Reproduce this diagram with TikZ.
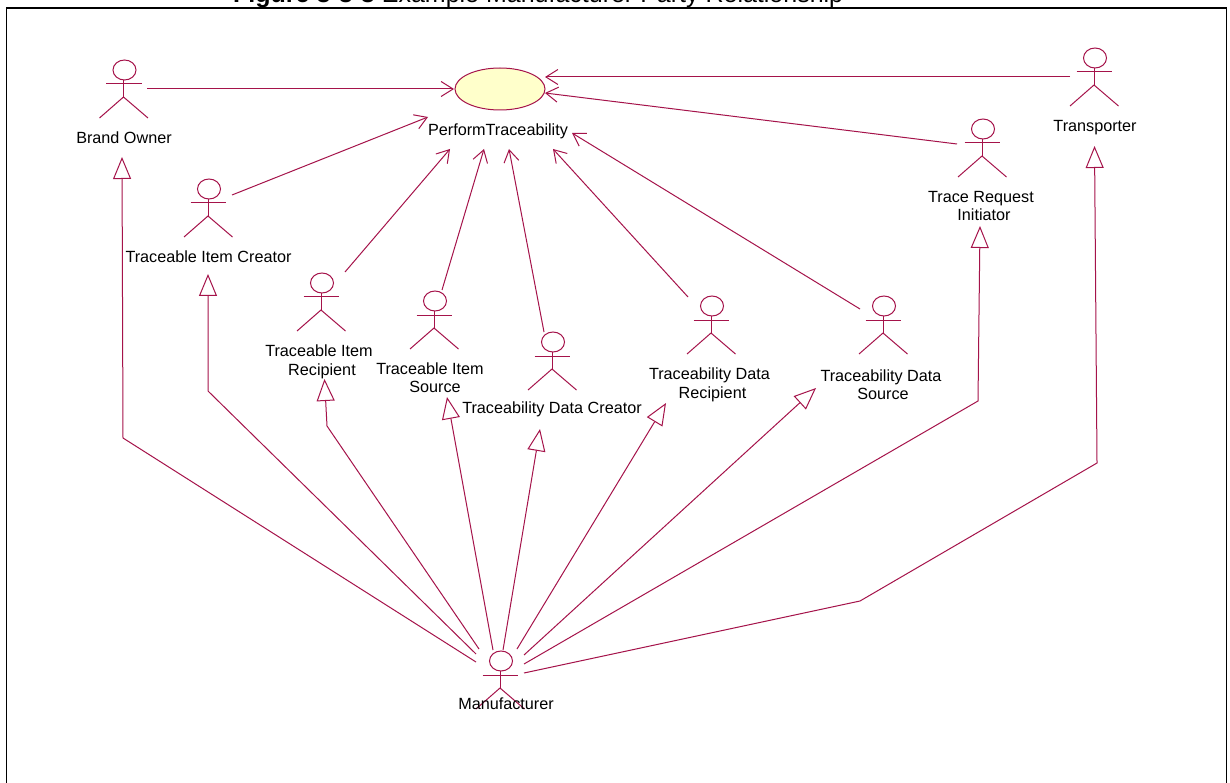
\documentclass[tikz,border=0pt]{standalone}
\usepackage{fontspec}
\setmainfont{Liberation Sans}
\usetikzlibrary{arrows.meta,shapes.geometric,calc}
\definecolor{umlline}{HTML}{A5134A}
\definecolor{umlfill}{HTML}{FFFFCB}
\tikzset{
  actorhead/.style={draw=umlline,line width=1pt,ellipse,inner sep=0pt,minimum width=23pt,minimum height=20pt},
  actorbody/.style={draw=umlline,line width=1pt},
  label/.style={font=\fontsize{16.2pt}{18.4pt}\selectfont,text=black,align=center,inner sep=0pt},
  usecase/.style={draw=umlline,fill=umlfill,line width=1pt,ellipse,inner sep=0pt,minimum width=90pt,minimum height=42pt},
  assoc/.style={draw=umlline,line width=1pt,-{Straight Barb[length=12pt,width=15pt,line width=1pt]}},
  general/.style={draw=umlline,line width=1pt,-{Triangle[open,length=22pt,width=18pt,fill=white,line width=1pt]}},
  frameline/.style={draw=black,line width=1.6pt},
  caption/.style={font=\fontsize{25pt}{28pt}\selectfont,text=black,inner sep=0pt,anchor=base west}
}
\newcommand{\umlactor}[3]{%
  \node[actorhead] (#1) at (#2,#3) {};
  \draw[actorbody] ($(#2,#3)+(-1,10)$) -- ($(#2,#3)+(-1,27)$) coordinate (#1crotch);
  \draw[actorbody] ($(#2,#3)+(-18.5,14)$) -- ($(#2,#3)+(17,14)$);
  \draw[actorbody] ($(#2,#3)+(-25,48)$) -- (#1crotch) -- ($(#2,#3)+(23.5,48)$);
}
\begin{document}
\begin{tikzpicture}[x=1pt,y=-1pt]
\useasboundingbox (0,0) rectangle (1230,783);
\path[fill=white] (0,0) rectangle (1230,783);
\node[caption] (title) at (233,2.5) {\textbf{Figure 3-3-3} Example Manufacturer Party Relationship};
\draw[frameline] (6.5,800) -- (6.5,8) -- (1226.5,8) -- (1226.5,800);

\node[usecase] (uc) at (500,89) {};
\node[label] (uclabel) at (498,131) {PerformTraceability};

\umlactor{bo}{124.5}{70}
\umlactor{tr}{1095}{58}
\umlactor{tri}{983}{129}
\umlactor{tic}{209}{189}
\umlactor{tir}{322}{283}
\umlactor{tis}{435}{301}
\umlactor{tdc}{553}{342}
\umlactor{tdr}{712}{306}
\umlactor{tds}{884}{306}
\umlactor{mf}{501}{661}

\node[label] (bol) at (124,138) {Brand Owner};
\node[label] (trl) at (1095,128) {Transporter};
\node[label] (tril) at (981,206) {Trace Request\\\hspace{6pt}Initiator};
\node[label] (ticl) at (208.5,257) {Traceable Item Creator};
\node[label] (tirl) at (319,362) {Traceable Item\\\hspace{6pt}Recipient};
\node[label] (tisl) at (430,378) {Traceable Item\\\hspace{10pt}Source};
\node[label] (tdcl) at (552,409) {Traceability Data Creator};
\node[label] (tdrl) at (709.5,385) {Traceability Data\\\hspace{6pt}Recipient};
\node[label] (tdsl) at (881,385) {Traceability Data\\\hspace{4pt}Source};
\node[label] (mfl) at (506,704) {Manufacturer};

% association end points
\coordinate (boS) at (147,89);     \coordinate (ucW) at (454,89);
\coordinate (trS) at (1070,77);    \coordinate (ucE1) at (545,77);
\coordinate (triS) at (957,144);   \coordinate (ucE2) at (545,93);
\coordinate (ticS) at (232,195);   \coordinate (ucA) at (428,117);
\coordinate (tirS) at (345,272);   \coordinate (ucB) at (450,149);
\coordinate (tisS) at (442,290);   \coordinate (ucC) at (484,149);
\coordinate (tdcS) at (544,332);   \coordinate (ucD) at (509,149);
\coordinate (tdrS) at (688,297);   \coordinate (ucF) at (553,149);
\coordinate (tdsS) at (860,309);   \coordinate (ucG) at (572,133);

\draw[assoc] (boS) -- (ucW);
\draw[assoc] (trS) -- (ucE1);
\draw[assoc] (triS) -- (ucE2);
\draw[assoc] (ticS) -- (ucA);
\draw[assoc] (tirS) -- (ucB);
\draw[assoc] (tisS) -- (ucC);
\draw[assoc] (tdcS) -- (ucD);
\draw[assoc] (tdrS) -- (ucF);
\draw[assoc] (tdsS) -- (ucG);

% generalisation end points
\coordinate (m1) at (476,662); \coordinate (m2) at (476,654); \coordinate (m3) at (479,649);
\coordinate (m4) at (493,650); \coordinate (m5) at (503,650); \coordinate (m6) at (517,649);
\coordinate (m7) at (524,655); \coordinate (m8) at (524,664); \coordinate (m9) at (524,673);
\coordinate (boT) at (122,157);  \coordinate (ticT) at (208,274); \coordinate (tirT) at (324.5,379);
\coordinate (tisT) at (447,397); \coordinate (tdcT) at (540,429); \coordinate (tdrT) at (666,403);
\coordinate (tdsT) at (816,388); \coordinate (triT) at (980,226); \coordinate (trT) at (1094.5,146);

\draw[general] (m1) -- (123,438) -- (boT);
\draw[general] (m2) -- (208,391) -- (ticT);
\draw[general] (m3) -- (327,426) -- (tirT);
\draw[general] (m4) -- (tisT);
\draw[general] (m5) -- (tdcT);
\draw[general] (m6) -- (tdrT);
\draw[general] (m7) -- (tdsT);
\draw[general] (m8) -- (978,401) -- (triT);
\draw[general] (m9) -- (860,601) -- (1097,463) -- (trT);
\end{tikzpicture}
\end{document}
